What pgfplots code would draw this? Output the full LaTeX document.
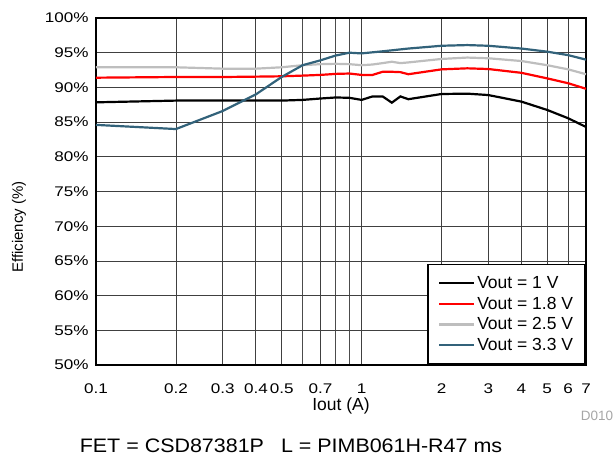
\documentclass[border=0pt]{standalone}
\usepackage{fontspec}
\setmainfont{Liberation Sans}
\newfontfamily\widefont{Liberation Sans}[FakeStretch=1.22]
\newfontfamily\capfont{Liberation Sans}[FakeStretch=1.1]
\usepackage{pgfplots}
\pgfplotsset{compat=1.18}
\definecolor{vblue}{RGB}{50,98,122}
\definecolor{vgray}{RGB}{190,190,190}
\definecolor{vred}{RGB}{255,0,0}
\begin{document}
\begin{tikzpicture}
\path[use as bounding box] (0,0) rectangle (615pt,459pt);
\begin{axis}[
  at={(96pt,94pt)}, anchor=south west,
  scale only axis, width=490pt, height=347pt,
  xmode=log, xmin=0.1, xmax=7, ymin=50, ymax=100,
  xtick={0.1,0.2,0.3,0.4,0.5,0.7,1,2,3,4,5,6,7},
  xticklabels={0.1,0.2,0.3,0.4,0.5,0.7,1,2,3,4,5,6,7},
  minor xtick={0.6,0.8,0.9},
  ytick={50,55,60,65,70,75,80,85,90,95,100},
  yticklabels={50\%,55\%,60\%,65\%,70\%,75\%,80\%,85\%,90\%,95\%,100\%},
  /pgf/number format/assume math mode=true,
  tick label style={font=\widefont\fontsize{14}{16}\selectfont},
  xticklabel style={yshift=-15pt},
  yticklabel style={xshift=-4pt},
  grid=both,
  major grid style={black!75, line width=0.8pt},
  minor grid style={black!70, line width=0.8pt},
  major tick length=0pt, minor tick length=0pt,
  axis line style={line width=2.4pt},
  legend cell align=left,
  legend image code/.code={\draw[#1] (0pt,0pt) -- (35pt,0pt);},
  legend style={at={(1,0)}, anchor=south east, draw=black, line width=1.8pt, fill=white,
    font=\fontsize{17.5}{20}\selectfont, inner xsep=10pt, inner ysep=10pt,
    row sep=3pt},
]
\addplot[black, line width=2.2pt] coordinates {
(0.1,87.85) (0.2,88.1) (0.3,88.1) (0.4,88.1) (0.5,88.1) (0.6,88.2) (0.7,88.4)
(0.8,88.55) (0.9,88.5) (1.0,88.2) (1.1,88.7) (1.2,88.7) (1.3,87.8) (1.4,88.7)
(1.5,88.3) (2,89.05) (2.5,89.1) (3,88.9) (4,87.95) (5,86.75) (6,85.55) (7,84.3)};
\addlegendentry{Vout = 1 V}
\addplot[vred, line width=2.2pt] coordinates {
(0.1,91.4) (0.2,91.5) (0.3,91.5) (0.4,91.55) (0.5,91.6) (0.6,91.7) (0.7,91.8)
(0.8,91.95) (0.9,92.0) (1.0,91.8) (1.1,91.8) (1.2,92.25) (1.3,92.25) (1.4,92.2)
(1.5,91.9) (2,92.6) (2.5,92.75) (3,92.65) (4,92.1) (5,91.3) (6,90.6) (7,89.8)};
\addlegendentry{Vout = 1.8 V}
\addplot[vgray, line width=2.2pt] coordinates {
(0.1,92.9) (0.2,92.9) (0.3,92.7) (0.4,92.7) (0.5,92.9) (0.6,93.2) (0.7,93.35)
(0.8,93.4) (0.9,93.35) (1.0,93.2) (1.1,93.3) (1.2,93.5) (1.3,93.7) (1.4,93.5)
(1.5,93.6) (2,94.1) (2.5,94.3) (3,94.2) (4,93.8) (5,93.2) (6,92.6) (7,91.9)};
\addlegendentry{Vout = 2.5 V}
\addplot[vblue, line width=2.2pt] coordinates {
(0.1,84.6) (0.2,84.0) (0.3,86.6) (0.4,89.0) (0.5,91.5) (0.6,93.2) (0.7,93.9)
(0.8,94.6) (0.9,95.0) (1.0,94.9) (1.2,95.2) (1.5,95.6) (2,96.0) (2.5,96.1)
(3,96.0) (4,95.6) (5,95.15) (6,94.65) (7,94.0)};
\addlegendentry{Vout = 3.3 V}
\end{axis}
\node[font=\fontsize{17.5}{20}\selectfont] at (341pt,53pt) {Iout (A)};
\node[rotate=90, font=\fontsize{15}{17}\selectfont] at (19pt,232pt) {Efficiency (\%)};
\node[text=black!35, font=\fontsize{13.5}{15}\selectfont] at (597pt,43pt) {D010};
\node[font=\capfont\fontsize{19.5}{22}\selectfont] at (291pt,13pt) {FET = CSD87381P\hspace{17pt}L = PIMB061H-R47 ms};
\end{tikzpicture}
\end{document}
